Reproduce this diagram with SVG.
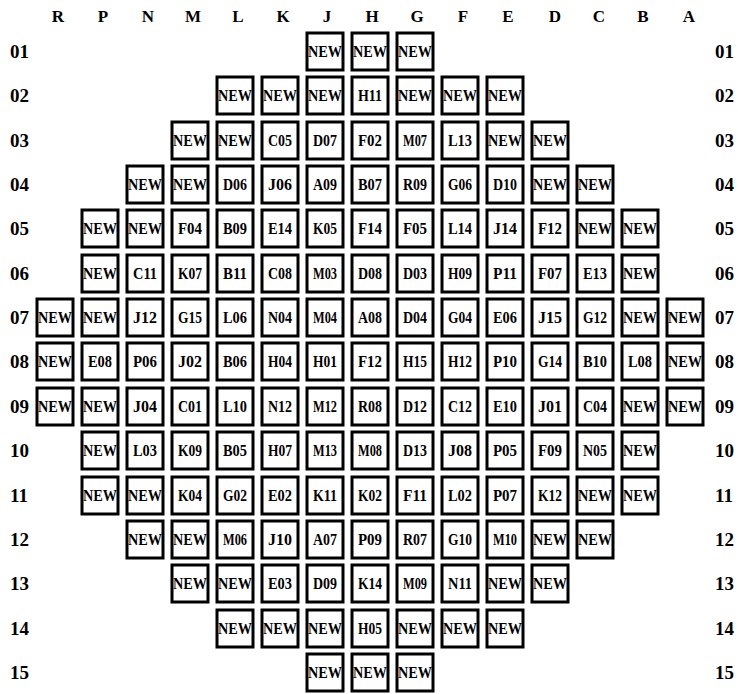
<svg xmlns="http://www.w3.org/2000/svg" width="738" height="694" viewBox="0 0 738 694">
<style>
text{font-family:"Liberation Serif","Times New Roman",serif;font-weight:bold;fill:#000}
.h{font-size:17px;text-anchor:middle}
.r{font-size:19px}
.c rect{fill:#fff;stroke:#000;stroke-width:3}
.c text{font-size:16px;text-anchor:middle}
</style>
<rect width="738" height="694" fill="#fff"/>
<g id="col-headers">
<text class="h" x="58" y="22">R</text><text class="h" x="103" y="22">P</text><text class="h" x="148" y="22">N</text><text class="h" x="193" y="22">M</text><text class="h" x="238" y="22">L</text><text class="h" x="283" y="22">K</text><text class="h" x="327" y="22">J</text><text class="h" x="372" y="22">H</text><text class="h" x="417" y="22">G</text><text class="h" x="463" y="22">F</text><text class="h" x="508" y="22">E</text><text class="h" x="555" y="22">D</text><text class="h" x="599" y="22">C</text><text class="h" x="643" y="22">B</text><text class="h" x="689" y="22">A</text>
</g>
<g id="row-labels">
<text class="r" x="10" y="58">01</text><text class="r" x="715" y="58">01</text>
<text class="r" x="10" y="102">02</text><text class="r" x="715" y="102">02</text>
<text class="r" x="10" y="147">03</text><text class="r" x="715" y="147">03</text>
<text class="r" x="10" y="191">04</text><text class="r" x="715" y="191">04</text>
<text class="r" x="10" y="235">05</text><text class="r" x="715" y="235">05</text>
<text class="r" x="10" y="280">06</text><text class="r" x="715" y="280">06</text>
<text class="r" x="10" y="324">07</text><text class="r" x="715" y="324">07</text>
<text class="r" x="10" y="368">08</text><text class="r" x="715" y="368">08</text>
<text class="r" x="10" y="413">09</text><text class="r" x="715" y="413">09</text>
<text class="r" x="10" y="457">10</text><text class="r" x="715" y="457">10</text>
<text class="r" x="10" y="502">11</text><text class="r" x="715" y="502">11</text>
<text class="r" x="10" y="546">12</text><text class="r" x="715" y="546">12</text>
<text class="r" x="10" y="590">13</text><text class="r" x="715" y="590">13</text>
<text class="r" x="10" y="635">14</text><text class="r" x="715" y="635">14</text>
<text class="r" x="10" y="679">15</text><text class="r" x="715" y="679">15</text>
</g>
<g id="connectors"></g>
<g id="cells">
<!-- row 01 -->
<g id="J01" class="c" transform="translate(325,51)"><rect x="-18" y="-18" width="36" height="37"/><text y="6" textLength="34" lengthAdjust="spacingAndGlyphs">NEW</text></g>
<g id="H01" class="c" transform="translate(370,51)"><rect x="-18" y="-18" width="36" height="37"/><text y="6" textLength="34" lengthAdjust="spacingAndGlyphs">NEW</text></g>
<g id="G01" class="c" transform="translate(415,51)"><rect x="-18" y="-18" width="36" height="37"/><text y="6" textLength="34" lengthAdjust="spacingAndGlyphs">NEW</text></g>
<!-- row 02 -->
<g id="L02" class="c" transform="translate(235,95)"><rect x="-18" y="-18" width="36" height="37"/><text y="6" textLength="34" lengthAdjust="spacingAndGlyphs">NEW</text></g>
<g id="K02" class="c" transform="translate(280,95)"><rect x="-18" y="-18" width="36" height="37"/><text y="6" textLength="34" lengthAdjust="spacingAndGlyphs">NEW</text></g>
<g id="J02" class="c" transform="translate(325,95)"><rect x="-18" y="-18" width="36" height="37"/><text y="6" textLength="34" lengthAdjust="spacingAndGlyphs">NEW</text></g>
<g id="H02" class="c" transform="translate(370,95)"><rect x="-18" y="-18" width="36" height="37"/><text y="6" textLength="24" lengthAdjust="spacingAndGlyphs">H11</text></g>
<g id="G02" class="c" transform="translate(415,95)"><rect x="-18" y="-18" width="36" height="37"/><text y="6" textLength="34" lengthAdjust="spacingAndGlyphs">NEW</text></g>
<g id="F02" class="c" transform="translate(460,95)"><rect x="-18" y="-18" width="36" height="37"/><text y="6" textLength="34" lengthAdjust="spacingAndGlyphs">NEW</text></g>
<g id="E02" class="c" transform="translate(505,95)"><rect x="-18" y="-18" width="36" height="37"/><text y="6" textLength="34" lengthAdjust="spacingAndGlyphs">NEW</text></g>
<!-- row 03 -->
<g id="M03" class="c" transform="translate(190,140)"><rect x="-18" y="-18" width="36" height="37"/><text y="6" textLength="34" lengthAdjust="spacingAndGlyphs">NEW</text></g>
<g id="L03" class="c" transform="translate(235,140)"><rect x="-18" y="-18" width="36" height="37"/><text y="6" textLength="34" lengthAdjust="spacingAndGlyphs">NEW</text></g>
<g id="K03" class="c" transform="translate(280,140)"><rect x="-18" y="-18" width="36" height="37"/><text y="6" textLength="24" lengthAdjust="spacingAndGlyphs">C05</text></g>
<g id="J03" class="c" transform="translate(325,140)"><rect x="-18" y="-18" width="36" height="37"/><text y="6" textLength="24" lengthAdjust="spacingAndGlyphs">D07</text></g>
<g id="H03" class="c" transform="translate(370,140)"><rect x="-18" y="-18" width="36" height="37"/><text y="6" textLength="24" lengthAdjust="spacingAndGlyphs">F02</text></g>
<g id="G03" class="c" transform="translate(415,140)"><rect x="-18" y="-18" width="36" height="37"/><text y="6" textLength="24" lengthAdjust="spacingAndGlyphs">M07</text></g>
<g id="F03" class="c" transform="translate(460,140)"><rect x="-18" y="-18" width="36" height="37"/><text y="6" textLength="24" lengthAdjust="spacingAndGlyphs">L13</text></g>
<g id="E03" class="c" transform="translate(505,140)"><rect x="-18" y="-18" width="36" height="37"/><text y="6" textLength="34" lengthAdjust="spacingAndGlyphs">NEW</text></g>
<g id="D03" class="c" transform="translate(550,140)"><rect x="-18" y="-18" width="36" height="37"/><text y="6" textLength="34" lengthAdjust="spacingAndGlyphs">NEW</text></g>
<!-- row 04 -->
<g id="N04" class="c" transform="translate(145,184)"><rect x="-18" y="-18" width="36" height="37"/><text y="6" textLength="34" lengthAdjust="spacingAndGlyphs">NEW</text></g>
<g id="M04" class="c" transform="translate(190,184)"><rect x="-18" y="-18" width="36" height="37"/><text y="6" textLength="34" lengthAdjust="spacingAndGlyphs">NEW</text></g>
<g id="L04" class="c" transform="translate(235,184)"><rect x="-18" y="-18" width="36" height="37"/><text y="6" textLength="24" lengthAdjust="spacingAndGlyphs">D06</text></g>
<g id="K04" class="c" transform="translate(280,184)"><rect x="-18" y="-18" width="36" height="37"/><text y="6" textLength="24" lengthAdjust="spacingAndGlyphs">J06</text></g>
<g id="J04" class="c" transform="translate(325,184)"><rect x="-18" y="-18" width="36" height="37"/><text y="6" textLength="24" lengthAdjust="spacingAndGlyphs">A09</text></g>
<g id="H04" class="c" transform="translate(370,184)"><rect x="-18" y="-18" width="36" height="37"/><text y="6" textLength="24" lengthAdjust="spacingAndGlyphs">B07</text></g>
<g id="G04" class="c" transform="translate(415,184)"><rect x="-18" y="-18" width="36" height="37"/><text y="6" textLength="24" lengthAdjust="spacingAndGlyphs">R09</text></g>
<g id="F04" class="c" transform="translate(460,184)"><rect x="-18" y="-18" width="36" height="37"/><text y="6" textLength="24" lengthAdjust="spacingAndGlyphs">G06</text></g>
<g id="E04" class="c" transform="translate(505,184)"><rect x="-18" y="-18" width="36" height="37"/><text y="6" textLength="24" lengthAdjust="spacingAndGlyphs">D10</text></g>
<g id="D04" class="c" transform="translate(550,184)"><rect x="-18" y="-18" width="36" height="37"/><text y="6" textLength="34" lengthAdjust="spacingAndGlyphs">NEW</text></g>
<g id="C04" class="c" transform="translate(595,184)"><rect x="-18" y="-18" width="36" height="37"/><text y="6" textLength="34" lengthAdjust="spacingAndGlyphs">NEW</text></g>
<!-- row 05 -->
<g id="P05" class="c" transform="translate(100,228)"><rect x="-18" y="-18" width="36" height="37"/><text y="6" textLength="34" lengthAdjust="spacingAndGlyphs">NEW</text></g>
<g id="N05" class="c" transform="translate(145,228)"><rect x="-18" y="-18" width="36" height="37"/><text y="6" textLength="34" lengthAdjust="spacingAndGlyphs">NEW</text></g>
<g id="M05" class="c" transform="translate(190,228)"><rect x="-18" y="-18" width="36" height="37"/><text y="6" textLength="24" lengthAdjust="spacingAndGlyphs">F04</text></g>
<g id="L05" class="c" transform="translate(235,228)"><rect x="-18" y="-18" width="36" height="37"/><text y="6" textLength="24" lengthAdjust="spacingAndGlyphs">B09</text></g>
<g id="K05" class="c" transform="translate(280,228)"><rect x="-18" y="-18" width="36" height="37"/><text y="6" textLength="24" lengthAdjust="spacingAndGlyphs">E14</text></g>
<g id="J05" class="c" transform="translate(325,228)"><rect x="-18" y="-18" width="36" height="37"/><text y="6" textLength="24" lengthAdjust="spacingAndGlyphs">K05</text></g>
<g id="H05" class="c" transform="translate(370,228)"><rect x="-18" y="-18" width="36" height="37"/><text y="6" textLength="24" lengthAdjust="spacingAndGlyphs">F14</text></g>
<g id="G05" class="c" transform="translate(415,228)"><rect x="-18" y="-18" width="36" height="37"/><text y="6" textLength="24" lengthAdjust="spacingAndGlyphs">F05</text></g>
<g id="F05" class="c" transform="translate(460,228)"><rect x="-18" y="-18" width="36" height="37"/><text y="6" textLength="24" lengthAdjust="spacingAndGlyphs">L14</text></g>
<g id="E05" class="c" transform="translate(505,228)"><rect x="-18" y="-18" width="36" height="37"/><text y="6" textLength="24" lengthAdjust="spacingAndGlyphs">J14</text></g>
<g id="D05" class="c" transform="translate(550,228)"><rect x="-18" y="-18" width="36" height="37"/><text y="6" textLength="24" lengthAdjust="spacingAndGlyphs">F12</text></g>
<g id="C05" class="c" transform="translate(595,228)"><rect x="-18" y="-18" width="36" height="37"/><text y="6" textLength="34" lengthAdjust="spacingAndGlyphs">NEW</text></g>
<g id="B05" class="c" transform="translate(640,228)"><rect x="-18" y="-18" width="36" height="37"/><text y="6" textLength="34" lengthAdjust="spacingAndGlyphs">NEW</text></g>
<!-- row 06 -->
<g id="P06" class="c" transform="translate(100,273)"><rect x="-18" y="-18" width="36" height="37"/><text y="6" textLength="34" lengthAdjust="spacingAndGlyphs">NEW</text></g>
<g id="N06" class="c" transform="translate(145,273)"><rect x="-18" y="-18" width="36" height="37"/><text y="6" textLength="24" lengthAdjust="spacingAndGlyphs">C11</text></g>
<g id="M06" class="c" transform="translate(190,273)"><rect x="-18" y="-18" width="36" height="37"/><text y="6" textLength="24" lengthAdjust="spacingAndGlyphs">K07</text></g>
<g id="L06" class="c" transform="translate(235,273)"><rect x="-18" y="-18" width="36" height="37"/><text y="6" textLength="24" lengthAdjust="spacingAndGlyphs">B11</text></g>
<g id="K06" class="c" transform="translate(280,273)"><rect x="-18" y="-18" width="36" height="37"/><text y="6" textLength="24" lengthAdjust="spacingAndGlyphs">C08</text></g>
<g id="J06" class="c" transform="translate(325,273)"><rect x="-18" y="-18" width="36" height="37"/><text y="6" textLength="24" lengthAdjust="spacingAndGlyphs">M03</text></g>
<g id="H06" class="c" transform="translate(370,273)"><rect x="-18" y="-18" width="36" height="37"/><text y="6" textLength="24" lengthAdjust="spacingAndGlyphs">D08</text></g>
<g id="G06" class="c" transform="translate(415,273)"><rect x="-18" y="-18" width="36" height="37"/><text y="6" textLength="24" lengthAdjust="spacingAndGlyphs">D03</text></g>
<g id="F06" class="c" transform="translate(460,273)"><rect x="-18" y="-18" width="36" height="37"/><text y="6" textLength="24" lengthAdjust="spacingAndGlyphs">H09</text></g>
<g id="E06" class="c" transform="translate(505,273)"><rect x="-18" y="-18" width="36" height="37"/><text y="6" textLength="24" lengthAdjust="spacingAndGlyphs">P11</text></g>
<g id="D06" class="c" transform="translate(550,273)"><rect x="-18" y="-18" width="36" height="37"/><text y="6" textLength="24" lengthAdjust="spacingAndGlyphs">F07</text></g>
<g id="C06" class="c" transform="translate(595,273)"><rect x="-18" y="-18" width="36" height="37"/><text y="6" textLength="24" lengthAdjust="spacingAndGlyphs">E13</text></g>
<g id="B06" class="c" transform="translate(640,273)"><rect x="-18" y="-18" width="36" height="37"/><text y="6" textLength="34" lengthAdjust="spacingAndGlyphs">NEW</text></g>
<!-- row 07 -->
<g id="R07" class="c" transform="translate(55,317)"><rect x="-18" y="-18" width="36" height="37"/><text y="6" textLength="34" lengthAdjust="spacingAndGlyphs">NEW</text></g>
<g id="P07" class="c" transform="translate(100,317)"><rect x="-18" y="-18" width="36" height="37"/><text y="6" textLength="34" lengthAdjust="spacingAndGlyphs">NEW</text></g>
<g id="N07" class="c" transform="translate(145,317)"><rect x="-18" y="-18" width="36" height="37"/><text y="6" textLength="24" lengthAdjust="spacingAndGlyphs">J12</text></g>
<g id="M07" class="c" transform="translate(190,317)"><rect x="-18" y="-18" width="36" height="37"/><text y="6" textLength="24" lengthAdjust="spacingAndGlyphs">G15</text></g>
<g id="L07" class="c" transform="translate(235,317)"><rect x="-18" y="-18" width="36" height="37"/><text y="6" textLength="24" lengthAdjust="spacingAndGlyphs">L06</text></g>
<g id="K07" class="c" transform="translate(280,317)"><rect x="-18" y="-18" width="36" height="37"/><text y="6" textLength="24" lengthAdjust="spacingAndGlyphs">N04</text></g>
<g id="J07" class="c" transform="translate(325,317)"><rect x="-18" y="-18" width="36" height="37"/><text y="6" textLength="24" lengthAdjust="spacingAndGlyphs">M04</text></g>
<g id="H07" class="c" transform="translate(370,317)"><rect x="-18" y="-18" width="36" height="37"/><text y="6" textLength="24" lengthAdjust="spacingAndGlyphs">A08</text></g>
<g id="G07" class="c" transform="translate(415,317)"><rect x="-18" y="-18" width="36" height="37"/><text y="6" textLength="24" lengthAdjust="spacingAndGlyphs">D04</text></g>
<g id="F07" class="c" transform="translate(460,317)"><rect x="-18" y="-18" width="36" height="37"/><text y="6" textLength="24" lengthAdjust="spacingAndGlyphs">G04</text></g>
<g id="E07" class="c" transform="translate(505,317)"><rect x="-18" y="-18" width="36" height="37"/><text y="6" textLength="24" lengthAdjust="spacingAndGlyphs">E06</text></g>
<g id="D07" class="c" transform="translate(550,317)"><rect x="-18" y="-18" width="36" height="37"/><text y="6" textLength="24" lengthAdjust="spacingAndGlyphs">J15</text></g>
<g id="C07" class="c" transform="translate(595,317)"><rect x="-18" y="-18" width="36" height="37"/><text y="6" textLength="24" lengthAdjust="spacingAndGlyphs">G12</text></g>
<g id="B07" class="c" transform="translate(640,317)"><rect x="-18" y="-18" width="36" height="37"/><text y="6" textLength="34" lengthAdjust="spacingAndGlyphs">NEW</text></g>
<g id="A07" class="c" transform="translate(685,317)"><rect x="-18" y="-18" width="36" height="37"/><text y="6" textLength="34" lengthAdjust="spacingAndGlyphs">NEW</text></g>
<!-- row 08 -->
<g id="R08" class="c" transform="translate(55,361)"><rect x="-18" y="-18" width="36" height="37"/><text y="6" textLength="34" lengthAdjust="spacingAndGlyphs">NEW</text></g>
<g id="P08" class="c" transform="translate(100,361)"><rect x="-18" y="-18" width="36" height="37"/><text y="6" textLength="24" lengthAdjust="spacingAndGlyphs">E08</text></g>
<g id="N08" class="c" transform="translate(145,361)"><rect x="-18" y="-18" width="36" height="37"/><text y="6" textLength="24" lengthAdjust="spacingAndGlyphs">P06</text></g>
<g id="M08" class="c" transform="translate(190,361)"><rect x="-18" y="-18" width="36" height="37"/><text y="6" textLength="24" lengthAdjust="spacingAndGlyphs">J02</text></g>
<g id="L08" class="c" transform="translate(235,361)"><rect x="-18" y="-18" width="36" height="37"/><text y="6" textLength="24" lengthAdjust="spacingAndGlyphs">B06</text></g>
<g id="K08" class="c" transform="translate(280,361)"><rect x="-18" y="-18" width="36" height="37"/><text y="6" textLength="24" lengthAdjust="spacingAndGlyphs">H04</text></g>
<g id="J08" class="c" transform="translate(325,361)"><rect x="-18" y="-18" width="36" height="37"/><text y="6" textLength="24" lengthAdjust="spacingAndGlyphs">H01</text></g>
<g id="H08" class="c" transform="translate(370,361)"><rect x="-18" y="-18" width="36" height="37"/><text y="6" textLength="24" lengthAdjust="spacingAndGlyphs">F12</text></g>
<g id="G08" class="c" transform="translate(415,361)"><rect x="-18" y="-18" width="36" height="37"/><text y="6" textLength="24" lengthAdjust="spacingAndGlyphs">H15</text></g>
<g id="F08" class="c" transform="translate(460,361)"><rect x="-18" y="-18" width="36" height="37"/><text y="6" textLength="24" lengthAdjust="spacingAndGlyphs">H12</text></g>
<g id="E08" class="c" transform="translate(505,361)"><rect x="-18" y="-18" width="36" height="37"/><text y="6" textLength="24" lengthAdjust="spacingAndGlyphs">P10</text></g>
<g id="D08" class="c" transform="translate(550,361)"><rect x="-18" y="-18" width="36" height="37"/><text y="6" textLength="24" lengthAdjust="spacingAndGlyphs">G14</text></g>
<g id="C08" class="c" transform="translate(595,361)"><rect x="-18" y="-18" width="36" height="37"/><text y="6" textLength="24" lengthAdjust="spacingAndGlyphs">B10</text></g>
<g id="B08" class="c" transform="translate(640,361)"><rect x="-18" y="-18" width="36" height="37"/><text y="6" textLength="24" lengthAdjust="spacingAndGlyphs">L08</text></g>
<g id="A08" class="c" transform="translate(685,361)"><rect x="-18" y="-18" width="36" height="37"/><text y="6" textLength="34" lengthAdjust="spacingAndGlyphs">NEW</text></g>
<!-- row 09 -->
<g id="R09" class="c" transform="translate(55,406)"><rect x="-18" y="-18" width="36" height="37"/><text y="6" textLength="34" lengthAdjust="spacingAndGlyphs">NEW</text></g>
<g id="P09" class="c" transform="translate(100,406)"><rect x="-18" y="-18" width="36" height="37"/><text y="6" textLength="34" lengthAdjust="spacingAndGlyphs">NEW</text></g>
<g id="N09" class="c" transform="translate(145,406)"><rect x="-18" y="-18" width="36" height="37"/><text y="6" textLength="24" lengthAdjust="spacingAndGlyphs">J04</text></g>
<g id="M09" class="c" transform="translate(190,406)"><rect x="-18" y="-18" width="36" height="37"/><text y="6" textLength="24" lengthAdjust="spacingAndGlyphs">C01</text></g>
<g id="L09" class="c" transform="translate(235,406)"><rect x="-18" y="-18" width="36" height="37"/><text y="6" textLength="24" lengthAdjust="spacingAndGlyphs">L10</text></g>
<g id="K09" class="c" transform="translate(280,406)"><rect x="-18" y="-18" width="36" height="37"/><text y="6" textLength="24" lengthAdjust="spacingAndGlyphs">N12</text></g>
<g id="J09" class="c" transform="translate(325,406)"><rect x="-18" y="-18" width="36" height="37"/><text y="6" textLength="24" lengthAdjust="spacingAndGlyphs">M12</text></g>
<g id="H09" class="c" transform="translate(370,406)"><rect x="-18" y="-18" width="36" height="37"/><text y="6" textLength="24" lengthAdjust="spacingAndGlyphs">R08</text></g>
<g id="G09" class="c" transform="translate(415,406)"><rect x="-18" y="-18" width="36" height="37"/><text y="6" textLength="24" lengthAdjust="spacingAndGlyphs">D12</text></g>
<g id="F09" class="c" transform="translate(460,406)"><rect x="-18" y="-18" width="36" height="37"/><text y="6" textLength="24" lengthAdjust="spacingAndGlyphs">C12</text></g>
<g id="E09" class="c" transform="translate(505,406)"><rect x="-18" y="-18" width="36" height="37"/><text y="6" textLength="24" lengthAdjust="spacingAndGlyphs">E10</text></g>
<g id="D09" class="c" transform="translate(550,406)"><rect x="-18" y="-18" width="36" height="37"/><text y="6" textLength="24" lengthAdjust="spacingAndGlyphs">J01</text></g>
<g id="C09" class="c" transform="translate(595,406)"><rect x="-18" y="-18" width="36" height="37"/><text y="6" textLength="24" lengthAdjust="spacingAndGlyphs">C04</text></g>
<g id="B09" class="c" transform="translate(640,406)"><rect x="-18" y="-18" width="36" height="37"/><text y="6" textLength="34" lengthAdjust="spacingAndGlyphs">NEW</text></g>
<g id="A09" class="c" transform="translate(685,406)"><rect x="-18" y="-18" width="36" height="37"/><text y="6" textLength="34" lengthAdjust="spacingAndGlyphs">NEW</text></g>
<!-- row 10 -->
<g id="P10" class="c" transform="translate(100,450)"><rect x="-18" y="-18" width="36" height="37"/><text y="6" textLength="34" lengthAdjust="spacingAndGlyphs">NEW</text></g>
<g id="N10" class="c" transform="translate(145,450)"><rect x="-18" y="-18" width="36" height="37"/><text y="6" textLength="24" lengthAdjust="spacingAndGlyphs">L03</text></g>
<g id="M10" class="c" transform="translate(190,450)"><rect x="-18" y="-18" width="36" height="37"/><text y="6" textLength="24" lengthAdjust="spacingAndGlyphs">K09</text></g>
<g id="L10" class="c" transform="translate(235,450)"><rect x="-18" y="-18" width="36" height="37"/><text y="6" textLength="24" lengthAdjust="spacingAndGlyphs">B05</text></g>
<g id="K10" class="c" transform="translate(280,450)"><rect x="-18" y="-18" width="36" height="37"/><text y="6" textLength="24" lengthAdjust="spacingAndGlyphs">H07</text></g>
<g id="J10" class="c" transform="translate(325,450)"><rect x="-18" y="-18" width="36" height="37"/><text y="6" textLength="24" lengthAdjust="spacingAndGlyphs">M13</text></g>
<g id="H10" class="c" transform="translate(370,450)"><rect x="-18" y="-18" width="36" height="37"/><text y="6" textLength="24" lengthAdjust="spacingAndGlyphs">M08</text></g>
<g id="G10" class="c" transform="translate(415,450)"><rect x="-18" y="-18" width="36" height="37"/><text y="6" textLength="24" lengthAdjust="spacingAndGlyphs">D13</text></g>
<g id="F10" class="c" transform="translate(460,450)"><rect x="-18" y="-18" width="36" height="37"/><text y="6" textLength="24" lengthAdjust="spacingAndGlyphs">J08</text></g>
<g id="E10" class="c" transform="translate(505,450)"><rect x="-18" y="-18" width="36" height="37"/><text y="6" textLength="24" lengthAdjust="spacingAndGlyphs">P05</text></g>
<g id="D10" class="c" transform="translate(550,450)"><rect x="-18" y="-18" width="36" height="37"/><text y="6" textLength="24" lengthAdjust="spacingAndGlyphs">F09</text></g>
<g id="C10" class="c" transform="translate(595,450)"><rect x="-18" y="-18" width="36" height="37"/><text y="6" textLength="24" lengthAdjust="spacingAndGlyphs">N05</text></g>
<g id="B10" class="c" transform="translate(640,450)"><rect x="-18" y="-18" width="36" height="37"/><text y="6" textLength="34" lengthAdjust="spacingAndGlyphs">NEW</text></g>
<!-- row 11 -->
<g id="P11" class="c" transform="translate(100,495)"><rect x="-18" y="-18" width="36" height="37"/><text y="6" textLength="34" lengthAdjust="spacingAndGlyphs">NEW</text></g>
<g id="N11" class="c" transform="translate(145,495)"><rect x="-18" y="-18" width="36" height="37"/><text y="6" textLength="34" lengthAdjust="spacingAndGlyphs">NEW</text></g>
<g id="M11" class="c" transform="translate(190,495)"><rect x="-18" y="-18" width="36" height="37"/><text y="6" textLength="24" lengthAdjust="spacingAndGlyphs">K04</text></g>
<g id="L11" class="c" transform="translate(235,495)"><rect x="-18" y="-18" width="36" height="37"/><text y="6" textLength="24" lengthAdjust="spacingAndGlyphs">G02</text></g>
<g id="K11" class="c" transform="translate(280,495)"><rect x="-18" y="-18" width="36" height="37"/><text y="6" textLength="24" lengthAdjust="spacingAndGlyphs">E02</text></g>
<g id="J11" class="c" transform="translate(325,495)"><rect x="-18" y="-18" width="36" height="37"/><text y="6" textLength="24" lengthAdjust="spacingAndGlyphs">K11</text></g>
<g id="H11" class="c" transform="translate(370,495)"><rect x="-18" y="-18" width="36" height="37"/><text y="6" textLength="24" lengthAdjust="spacingAndGlyphs">K02</text></g>
<g id="G11" class="c" transform="translate(415,495)"><rect x="-18" y="-18" width="36" height="37"/><text y="6" textLength="24" lengthAdjust="spacingAndGlyphs">F11</text></g>
<g id="F11" class="c" transform="translate(460,495)"><rect x="-18" y="-18" width="36" height="37"/><text y="6" textLength="24" lengthAdjust="spacingAndGlyphs">L02</text></g>
<g id="E11" class="c" transform="translate(505,495)"><rect x="-18" y="-18" width="36" height="37"/><text y="6" textLength="24" lengthAdjust="spacingAndGlyphs">P07</text></g>
<g id="D11" class="c" transform="translate(550,495)"><rect x="-18" y="-18" width="36" height="37"/><text y="6" textLength="24" lengthAdjust="spacingAndGlyphs">K12</text></g>
<g id="C11" class="c" transform="translate(595,495)"><rect x="-18" y="-18" width="36" height="37"/><text y="6" textLength="34" lengthAdjust="spacingAndGlyphs">NEW</text></g>
<g id="B11" class="c" transform="translate(640,495)"><rect x="-18" y="-18" width="36" height="37"/><text y="6" textLength="34" lengthAdjust="spacingAndGlyphs">NEW</text></g>
<!-- row 12 -->
<g id="N12" class="c" transform="translate(145,539)"><rect x="-18" y="-18" width="36" height="37"/><text y="6" textLength="34" lengthAdjust="spacingAndGlyphs">NEW</text></g>
<g id="M12" class="c" transform="translate(190,539)"><rect x="-18" y="-18" width="36" height="37"/><text y="6" textLength="34" lengthAdjust="spacingAndGlyphs">NEW</text></g>
<g id="L12" class="c" transform="translate(235,539)"><rect x="-18" y="-18" width="36" height="37"/><text y="6" textLength="24" lengthAdjust="spacingAndGlyphs">M06</text></g>
<g id="K12" class="c" transform="translate(280,539)"><rect x="-18" y="-18" width="36" height="37"/><text y="6" textLength="24" lengthAdjust="spacingAndGlyphs">J10</text></g>
<g id="J12" class="c" transform="translate(325,539)"><rect x="-18" y="-18" width="36" height="37"/><text y="6" textLength="24" lengthAdjust="spacingAndGlyphs">A07</text></g>
<g id="H12" class="c" transform="translate(370,539)"><rect x="-18" y="-18" width="36" height="37"/><text y="6" textLength="24" lengthAdjust="spacingAndGlyphs">P09</text></g>
<g id="G12" class="c" transform="translate(415,539)"><rect x="-18" y="-18" width="36" height="37"/><text y="6" textLength="24" lengthAdjust="spacingAndGlyphs">R07</text></g>
<g id="F12" class="c" transform="translate(460,539)"><rect x="-18" y="-18" width="36" height="37"/><text y="6" textLength="24" lengthAdjust="spacingAndGlyphs">G10</text></g>
<g id="E12" class="c" transform="translate(505,539)"><rect x="-18" y="-18" width="36" height="37"/><text y="6" textLength="24" lengthAdjust="spacingAndGlyphs">M10</text></g>
<g id="D12" class="c" transform="translate(550,539)"><rect x="-18" y="-18" width="36" height="37"/><text y="6" textLength="34" lengthAdjust="spacingAndGlyphs">NEW</text></g>
<g id="C12" class="c" transform="translate(595,539)"><rect x="-18" y="-18" width="36" height="37"/><text y="6" textLength="34" lengthAdjust="spacingAndGlyphs">NEW</text></g>
<!-- row 13 -->
<g id="M13" class="c" transform="translate(190,583)"><rect x="-18" y="-18" width="36" height="37"/><text y="6" textLength="34" lengthAdjust="spacingAndGlyphs">NEW</text></g>
<g id="L13" class="c" transform="translate(235,583)"><rect x="-18" y="-18" width="36" height="37"/><text y="6" textLength="34" lengthAdjust="spacingAndGlyphs">NEW</text></g>
<g id="K13" class="c" transform="translate(280,583)"><rect x="-18" y="-18" width="36" height="37"/><text y="6" textLength="24" lengthAdjust="spacingAndGlyphs">E03</text></g>
<g id="J13" class="c" transform="translate(325,583)"><rect x="-18" y="-18" width="36" height="37"/><text y="6" textLength="24" lengthAdjust="spacingAndGlyphs">D09</text></g>
<g id="H13" class="c" transform="translate(370,583)"><rect x="-18" y="-18" width="36" height="37"/><text y="6" textLength="24" lengthAdjust="spacingAndGlyphs">K14</text></g>
<g id="G13" class="c" transform="translate(415,583)"><rect x="-18" y="-18" width="36" height="37"/><text y="6" textLength="24" lengthAdjust="spacingAndGlyphs">M09</text></g>
<g id="F13" class="c" transform="translate(460,583)"><rect x="-18" y="-18" width="36" height="37"/><text y="6" textLength="24" lengthAdjust="spacingAndGlyphs">N11</text></g>
<g id="E13" class="c" transform="translate(505,583)"><rect x="-18" y="-18" width="36" height="37"/><text y="6" textLength="34" lengthAdjust="spacingAndGlyphs">NEW</text></g>
<g id="D13" class="c" transform="translate(550,583)"><rect x="-18" y="-18" width="36" height="37"/><text y="6" textLength="34" lengthAdjust="spacingAndGlyphs">NEW</text></g>
<!-- row 14 -->
<g id="L14" class="c" transform="translate(235,628)"><rect x="-18" y="-18" width="36" height="37"/><text y="6" textLength="34" lengthAdjust="spacingAndGlyphs">NEW</text></g>
<g id="K14" class="c" transform="translate(280,628)"><rect x="-18" y="-18" width="36" height="37"/><text y="6" textLength="34" lengthAdjust="spacingAndGlyphs">NEW</text></g>
<g id="J14" class="c" transform="translate(325,628)"><rect x="-18" y="-18" width="36" height="37"/><text y="6" textLength="34" lengthAdjust="spacingAndGlyphs">NEW</text></g>
<g id="H14" class="c" transform="translate(370,628)"><rect x="-18" y="-18" width="36" height="37"/><text y="6" textLength="24" lengthAdjust="spacingAndGlyphs">H05</text></g>
<g id="G14" class="c" transform="translate(415,628)"><rect x="-18" y="-18" width="36" height="37"/><text y="6" textLength="34" lengthAdjust="spacingAndGlyphs">NEW</text></g>
<g id="F14" class="c" transform="translate(460,628)"><rect x="-18" y="-18" width="36" height="37"/><text y="6" textLength="34" lengthAdjust="spacingAndGlyphs">NEW</text></g>
<g id="E14" class="c" transform="translate(505,628)"><rect x="-18" y="-18" width="36" height="37"/><text y="6" textLength="34" lengthAdjust="spacingAndGlyphs">NEW</text></g>
<!-- row 15 -->
<g id="J15" class="c" transform="translate(325,672)"><rect x="-18" y="-18" width="36" height="37"/><text y="6" textLength="34" lengthAdjust="spacingAndGlyphs">NEW</text></g>
<g id="H15" class="c" transform="translate(370,672)"><rect x="-18" y="-18" width="36" height="37"/><text y="6" textLength="34" lengthAdjust="spacingAndGlyphs">NEW</text></g>
<g id="G15" class="c" transform="translate(415,672)"><rect x="-18" y="-18" width="36" height="37"/><text y="6" textLength="34" lengthAdjust="spacingAndGlyphs">NEW</text></g>
</g>
</svg>
